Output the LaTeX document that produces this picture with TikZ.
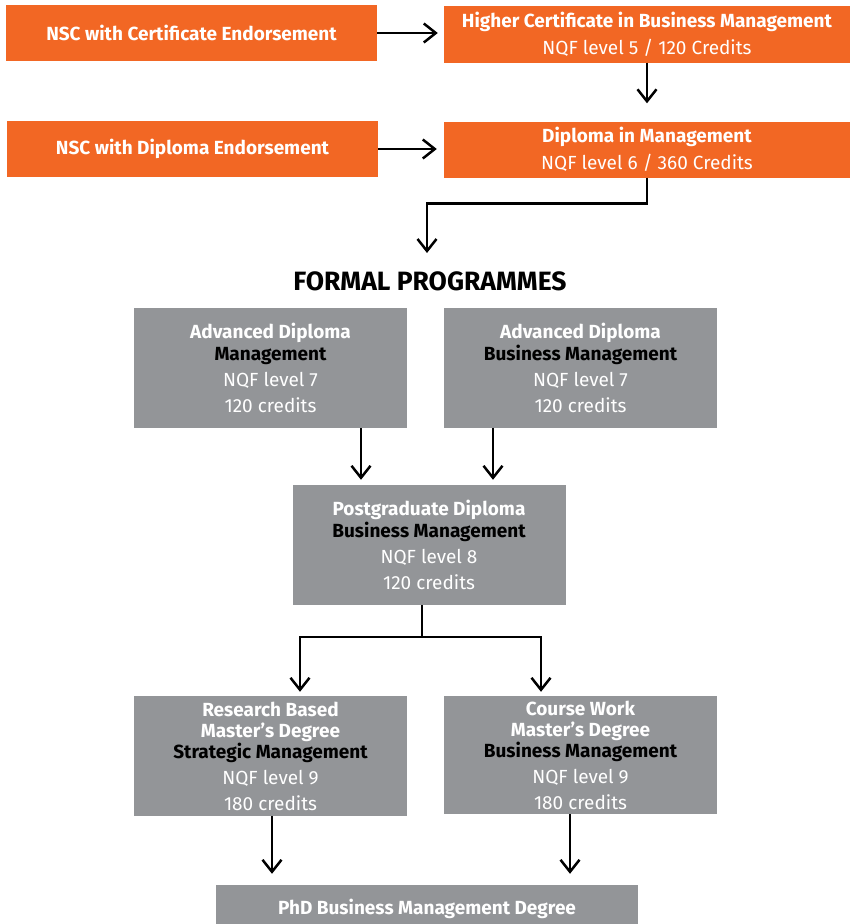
\documentclass[tikz,border=0pt]{standalone}
\usepackage{fontspec}
\setmainfont{Fira Sans}
\usetikzlibrary{arrows.meta}
\definecolor{nqf-orange}{RGB}{242,103,36}
\definecolor{nqf-grey}{RGB}{147,149,152}
\tikzset{
    orange-box/.style = {fill=nqf-orange, text=white, rectangle, inner sep=0pt, align=center, minimum width=371pt, minimum height=56pt, font=\fontsize{19}{27}\selectfont},
    grey-box/.style = {fill=nqf-grey, text=white, rectangle, inner sep=0pt, align=center, minimum width=273pt, minimum height=120pt, font=\fontsize{19}{26}\selectfont},
    flow/.style = {line width=2.5pt, -{Straight Barb[length=12pt,width=19pt,line width=2.5pt]}},
}

\begin{document}
\begin{tikzpicture}[x=1pt, y=-1pt]
\useasboundingbox (0,0) rectangle (850,924);
\node[orange-box] (nsc-cert) at (191.5,33) {\bfseries NSC with Certificate Endorsement};
\node[orange-box, minimum width=406pt, minimum height=57pt] (higher-cert) at (647,34) {\textbf{Higher Certificate in Business Management}\\NQF level 5 / 120 Credits};
\node[orange-box] (nsc-dip) at (192.5,149) {\bfseries NSC with Diploma Endorsement};
\node[orange-box, minimum width=406pt] (dip-mgmt) at (647,149.5) {\textbf{Diploma in Management}\\NQF level 6 / 360 Credits};
\coordinate (formal-in) at (427,253);
\node[font=\fontsize{26.5}{30}\selectfont\bfseries] (formal) at (430,281) {FORMAL PROGRAMMES};
\node[grey-box] (adv-mgmt) at (270.5,368) {\textbf{Advanced Diploma}\\[-4pt]\textbf{\color{black}Management}\\NQF level 7\\120 credits};
\node[grey-box] (adv-bm) at (580.5,367.5) {\textbf{Advanced Diploma}\\[-4pt]\textbf{\color{black}Business Management}\\NQF level 7\\120 credits};
\node[grey-box] (pgd) at (429,545) {\textbf{Postgraduate Diploma}\\[-4pt]\textbf{\color{black}Business Management}\\NQF level 8\\120 credits};
\node[grey-box] (research-ma) at (270.5,756) {\textbf{Research Based}\\[-5pt]\textbf{Master's Degree}\\[-5pt]\textbf{\color{black}Strategic Management}\\NQF level 9\\180 credits};
\node[grey-box, minimum height=118pt] (course-ma) at (580.5,755) {\textbf{Course Work}\\[-5pt]\textbf{Master's Degree}\\[-5pt]\textbf{\color{black}Business Management}\\NQF level 9\\180 credits};
\node[grey-box, minimum width=422pt, minimum height=48pt] (phd) at (427,909) {\bfseries PhD Business Management Degree};

\draw[flow, shorten >=6pt] (nsc-cert.east) -- (nsc-cert.east -| higher-cert.west);
\draw[flow, shorten >=7pt] (nsc-dip.east) -- (nsc-dip.east -| dip-mgmt.west);
\draw[flow, shorten >=18pt] (higher-cert.south) -- (dip-mgmt.north);
\draw[flow] (dip-mgmt.south) -- ++(0,26) -| (formal-in);
\draw[flow, shorten >=5pt] ([xshift=90.5]adv-mgmt.south) -- ([xshift=90.5]adv-mgmt.south |- pgd.north);
\draw[flow, shorten >=5pt] ([xshift=-87.5]adv-bm.south) -- ([xshift=-87.5]adv-bm.south |- pgd.north);
\draw[line width=2.5pt] ([xshift=-7]pgd.south) -- ++(0,32) coordinate (split);
\draw[flow, shorten >=4pt] (split) -| ([xshift=29.5]research-ma.north);
\draw[flow, shorten >=4pt] (split) -| ([xshift=-39.5]course-ma.north);
\draw[flow, shorten >=11pt] ([xshift=1.5]research-ma.south) -- ([xshift=1.5]research-ma.south |- phd.north);
\draw[flow, shorten >=11pt] ([xshift=-10.5]course-ma.south) -- ([xshift=-10.5]course-ma.south |- phd.north);
\end{tikzpicture}
\end{document}
